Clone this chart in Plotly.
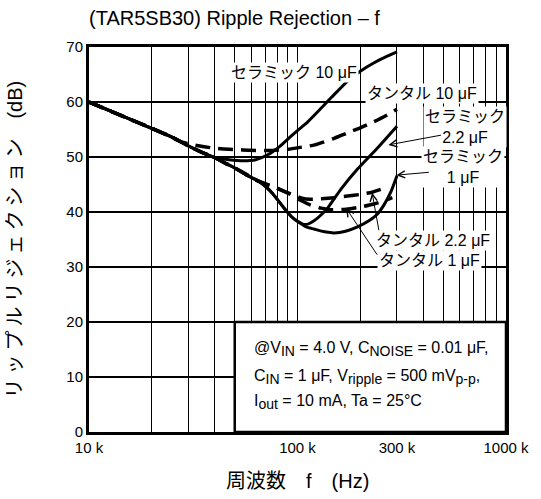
import plotly.graph_objects as go
import numpy as np

FONT = "Liberation Sans, Arial, Noto Sans CJK JP, sans-serif"

# ---- data (frequency in Hz, ripple rejection in dB) ----
F_CER10 = [10e3, 15e3, 20e3, 25e3, 30e3, 35e3, 40e3, 47e3, 55e3, 63e3, 72e3, 82e3, 92e3, 100e3,
           112e3, 130e3, 146e3, 174e3, 200e3, 232e3, 265e3, 300e3]
DB_CER10 = [60.0, 57.2, 55.2, 53.6, 52.0, 50.8, 49.9, 49.5, 49.3, 49.5, 50.4, 51.9, 53.6, 54.8,
            56.4, 58.9, 60.9, 63.8, 65.6, 67.1, 68.2, 69.1]

F_TAN10 = [10e3, 15e3, 20e3, 24e3, 28e3, 34e3, 40e3, 47e3, 63e3, 75e3, 90e3, 105e3, 121e3,
           150e3, 174e3, 200e3, 232e3, 265e3, 300e3]
DB_TAN10 = [60.0, 57.2, 55.2, 53.9, 52.7, 52.0, 51.6, 51.4, 51.2, 51.2, 51.4, 51.8, 52.2,
            53.4, 54.4, 55.3, 56.4, 57.5, 58.7]

F_CER22 = [10e3, 15e3, 20e3, 25e3, 30e3, 35e3, 40e3, 46e3, 50e3, 57e3, 63e3, 68.5e3, 75e3, 80e3,
           88e3, 94.5e3, 100e3, 106e3, 112e3, 120e3, 130e3, 140e3, 162e3, 194e3, 240e3, 300e3]
DB_CER22 = [60.0, 57.2, 55.2, 53.6, 52.0, 50.8, 49.9, 48.7, 48.0, 46.7, 45.9, 45.0, 43.6, 42.3,
            40.3, 39.0, 38.3, 37.8, 37.8, 38.4, 39.5, 40.8, 44.2, 47.8, 51.5, 55.6]

F_CER1 = [10e3, 15e3, 20e3, 25e3, 30e3, 35e3, 40e3, 46e3, 50e3, 57e3, 63e3, 68.5e3, 75e3, 80e3,
          88e3, 94.5e3, 100e3, 110e3, 120e3, 135e3, 150e3, 170e3, 194e3, 220e3, 240e3, 260e3,
          280e3, 300e3]
DB_CER1 = [60.0, 57.2, 55.2, 53.6, 52.0, 50.8, 49.9, 48.7, 48.0, 46.7, 45.9, 45.0, 43.6, 42.3,
           40.3, 39.0, 38.3, 37.3, 36.9, 36.4, 36.2, 36.5, 37.3, 38.4, 39.5, 41.3, 43.6, 46.6]

F_TAN22 = [10e3, 15e3, 20e3, 25e3, 30e3, 35e3, 40e3, 46e3, 50e3, 57e3, 65e3, 80e3, 90e3,
           105e3, 115e3, 130e3, 150e3, 174e3, 200e3, 228e3, 255e3]
DB_TAN22 = [60.0, 57.2, 55.2, 53.6, 52.0, 50.8, 49.9, 48.7, 48.0, 46.8, 45.6, 44.3, 43.5,
            42.5, 42.3, 42.4, 42.6, 42.9, 43.2, 43.6, 44.2]

F_TAN1 = [10e3, 15e3, 20e3, 25e3, 30e3, 35e3, 40e3, 46e3, 50e3, 57e3, 65e3, 80e3, 90e3,
          105e3, 115e3, 130e3, 145e3, 171e3, 194e3, 230e3, 267e3, 285e3]
DB_TAN1 = [60.0, 57.2, 55.2, 53.6, 52.0, 50.8, 49.9, 48.7, 48.0, 46.8, 45.6, 44.3, 43.4,
           42.0, 41.3, 40.7, 40.4, 40.5, 40.8, 41.4, 42.2, 42.6]

GRID_F = [m * 10 ** e for e in (4, 5) for m in range(2, 10)]
TICK_F = [1e4, 1e5, 3e5, 1e6]
TICK_TEXT = ["10 k", "100 k", "300 k", "1000 k"]
Y_TICKS = [0, 10, 20, 30, 40, 50, 60, 70]

# arrow tips (freq, dB) for the callouts
TIP_CER22 = (273e3, 52.2)
TIP_CER1 = (298e3, 46.7)
TIP_TAN22 = (228e3, 43.5)
TIP_TAN1 = (171e3, 40.7)
BOX_F0 = 50e3      # condition box spans 50 k .. 1000 k, 0 .. 20 dB
BOX_DB1 = 20

fig = go.Figure()

DASH = "15px,8px"
for f, d in [(F_TAN10, DB_TAN10), (F_TAN22, DB_TAN22), (F_TAN1, DB_TAN1)]:
    fig.add_trace(go.Scatter(x=f, y=d, mode="lines", hoverinfo="skip",
                             line=dict(color="black", width=3.5, dash=DASH, shape="spline", smoothing=0.6)))
for f, d in [(F_CER10, DB_CER10), (F_CER22, DB_CER22), (F_CER1, DB_CER1)]:
    fig.add_trace(go.Scatter(x=f, y=d, mode="lines", hoverinfo="skip",
                             line=dict(color="black", width=3, shape="spline", smoothing=0.6)))

# plot-area geometry (pixels) for paper placement of text
L, R, T, B = 89, 515, 47, 432
def px(x):
    return (x - L) / (R - L)
def py(y):
    return (B - y) / (B - T)
def fx(f):  # frequency -> paper x on the 10k..1000k log axis
    return (np.log10(f) - 4.0) / 2.0

ann = []
lbl = dict(font=dict(size=16, family=FONT, color="black"), bgcolor="white", showarrow=False,
           xref="paper", yref="paper", borderpad=1, xanchor="center", yanchor="middle")
ann.append(dict(text="セラミック 10 μF", x=px(298), y=py(72), **lbl))
ann.append(dict(text="タンタル 10 μF", x=px(429), y=py(93), **lbl))
ann.append(dict(text="セラミック<br>2.2 μF", x=px(473), y=py(127), **lbl))
ann.append(dict(text="セラミック<br>1 μF", x=px(471), y=py(167), **lbl))
ann.append(dict(text="タンタル 2.2 μF", x=px(440), y=py(240), **lbl))
ann.append(dict(text="タンタル 1 μF", x=px(437), y=py(260), **lbl))

# arrows: tip at (freq, dB), tail offset in pixels
arr = dict(showarrow=True, arrowhead=5, arrowsize=1.4, arrowwidth=1, arrowcolor="black",
           text="", xref="paper", yref="y", standoff=0, startstandoff=0)
for (f, d), (dx, dy) in [(TIP_CER22, (54, -10)), (TIP_CER1, (34, -3)),
                         (TIP_TAN22, (7, 39)), (TIP_TAN1, (32, 48))]:
    ann.append(dict(x=fx(f), y=d, ax=dx, ay=dy, **arr))

# condition box text
box_font = dict(size=16, family=FONT, color="black")
def sub(s):
    return "<sub><span style='font-size:14px'>" + s + "</span></sub>"
cond = [
    "@V" + sub("IN") + " = 4.0 V, C" + sub("NOISE") + " = 0.01 μF,",
    "C" + sub("IN") + " = 1 μF, V" + sub("ripple") + " = 500 mV" + sub("p-p") + ",",
    "I" + sub("out") + " = 10 mA, Ta = 25°C",
]
for t, yy in zip(cond, [349, 377, 402]):
    ann.append(dict(text=t, x=px(256), y=py(yy), xanchor="left", yanchor="middle",
                    showarrow=False, xref="paper", yref="paper", font=box_font))

# title and axis titles
THIN = "\u2009"
ytitle = THIN.join("リップルリジェクション") + "　(dB)"
ann.append(dict(text="(TAR5SB30) Ripple Rejection – f", x=px(238), y=py(18), xref="paper", yref="paper",
                showarrow=False, font=dict(size=20, family=FONT, color="black"),
                xanchor="center", yanchor="middle"))
ann.append(dict(text="周波数　f　(Hz)", x=px(302), y=py(481), xref="paper", yref="paper",
                showarrow=False, font=dict(size=20, family=FONT, color="black"),
                xanchor="center", yanchor="middle"))
ann.append(dict(text=ytitle, x=px(13), y=py(240), xref="paper", yref="paper",
                showarrow=False, textangle=-90, font=dict(size=20, family=FONT, color="black"),
                xanchor="center", yanchor="middle"))

fig.update_layout(
    width=541, height=499,
    margin=dict(l=L, r=541 - R, t=T, b=499 - B),
    plot_bgcolor="white", paper_bgcolor="white",
    showlegend=False,
    font=dict(family=FONT, size=15, color="black"),
    annotations=ann,
    shapes=[dict(type="rect", xref="paper", yref="y", x0=fx(BOX_F0), x1=1, y0=0, y1=BOX_DB1,
                 fillcolor="white", line=dict(color="black", width=2.5), layer="above")],
)
fig.update_xaxes(type="log", range=[4, 6], tickvals=TICK_F, ticktext=TICK_TEXT,
                 showgrid=True, gridcolor="black", gridwidth=1, ticks="",
                 minor=dict(tickvals=GRID_F, showgrid=True, gridcolor="black", gridwidth=1, ticks=""),
                 showline=True, linecolor="black", linewidth=3, mirror=True, zeroline=False,
                 tickfont=dict(size=15))
fig.update_yaxes(range=[0, 70], tickvals=Y_TICKS, showgrid=True, gridcolor="black", gridwidth=2,
                 ticks="", showline=True, linecolor="black", linewidth=3, mirror=True, zeroline=False,
                 tickfont=dict(size=15))

fig.write_html("out.html", config={"displayModeBar": False},
               post_script="document.body.style.margin='0';")
